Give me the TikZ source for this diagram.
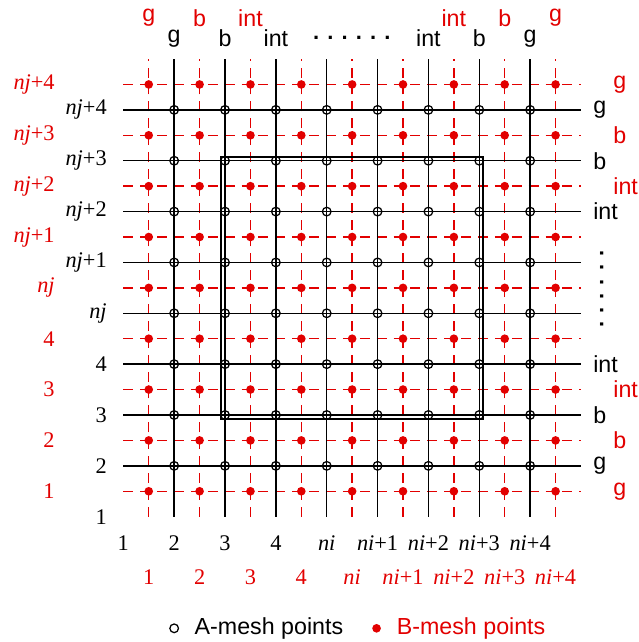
\documentclass[tikz,border=0pt]{standalone}
\usepackage{fontspec}
\setmainfont{Liberation Serif}
\setsansfont{Liberation Sans}
\usepackage{tikz}
\usetikzlibrary{positioning}
\definecolor{MeshRed}{RGB}{226,0,0}

\begin{document}
\begin{tikzpicture}[
    numfont/.style={font=\fontsize{12.5}{14}\selectfont, inner sep=0pt},
    tagfont/.style={font=\fontsize{13}{15}\sffamily, inner sep=0pt},
    dotfont/.style={font=\fontsize{12.3}{14}\sffamily\bfseries, inner sep=0pt},
    aline/.style={line width=0.85pt},
    bline/.style={MeshRed, line width=0.8pt, dash pattern=on 5.6pt off 3.85pt},
    apoint/.style={circle, draw, line width=0.7pt, inner sep=0pt, minimum size=0.17cm},
    bpoint/.style={circle, fill=MeshRed, inner sep=0pt, minimum size=0.17cm},
  ]
  \useasboundingbox (-1.425,-1.464) rectangle (11.122,11.161);

  % B-mesh (dashed) and A-mesh (solid) lines
  \foreach \k in {1,...,9} {
    \draw[bline] (1,\k+0.5) -- (10,\k+0.5);
    \draw[bline] (\k+0.5,1) -- (\k+0.5,10);
  }
  \foreach \k in {2,...,9} {
    \draw[aline] (1,\k) -- (10,\k);
    \draw[aline] (\k,1) -- (\k,10);
  }

  % interior block
  \draw[line width=1.2pt] (2.92,2.92) rectangle (8.08,8.08);

  % mesh points
  \foreach \i in {2,...,9}
    \foreach \j in {2,...,9}
      \node[apoint] (a-\i-\j) at (\i,\j) {};
  \foreach \i in {1,...,9}
    \foreach \j in {1,...,9}
      \node[bpoint] (b-\i-\j) at (\i+0.5,\j+0.5) {};

  % row indices
  \foreach \j/\t in {1/1,2/2,3/3,4/4,5/\textit{nj},6/\textit{nj}+1,7/\textit{nj}+2,8/\textit{nj}+3,9/\textit{nj}+4} {
    \node[numfont, anchor=east] (ra-\j) at (0.68,\j) {\t};
    \node[numfont, anchor=east, MeshRed] (rb-\j) at (-0.343,\j+0.5) {\t};
  }

  % column indices
  \foreach \i/\t in {1/1,2/2,3/3,4/4,5/\textit{ni},6/\textit{ni}+1,7/\textit{ni}+2,8/\textit{ni}+3,9/\textit{ni}+4} {
    \node[numfont] (ca-\i) at (\i,0.473) {\t};
    \node[numfont, MeshRed] (cb-\i) at (\i+0.5,-0.186) {\t};
  }

  % boundary tags
  \foreach \k/\t in {2/g,3/b,4/int,7/int,8/b,9/g} {
    \node[tagfont] (ta-\k) at (\k,10.404) {\t};
    \node[tagfont, anchor=west] (sa-\k) at (10.235,\k) {\t};
  }
  \foreach \k/\t in {1/g,2/b,3/int,7/int,8/b,9/g} {
    \node[tagfont, MeshRed] (tb-\k) at (\k+0.5,10.807) {\t};
    \node[tagfont, anchor=west, MeshRed] (sb-\k) at (10.63,\k+0.5) {\t};
  }

  % ellipses
  \node[dotfont] (dots-top) at (5.495,10.408) {. . . . . .};
  \node[dotfont, rotate=90] (dots-side) at (10.41,5.474) {. . . . . .};

  % legend
  \node[apoint] (key-a) at (2,-1.195) {};
  \node[tagfont, right=0.3cm of key-a] (key-a-text) {A-mesh points};
  \node[bpoint] (key-b) at (5.98,-1.195) {};
  \node[tagfont, MeshRed, right=0.3cm of key-b] (key-b-text) {B-mesh points};
\end{tikzpicture}
\end{document}
